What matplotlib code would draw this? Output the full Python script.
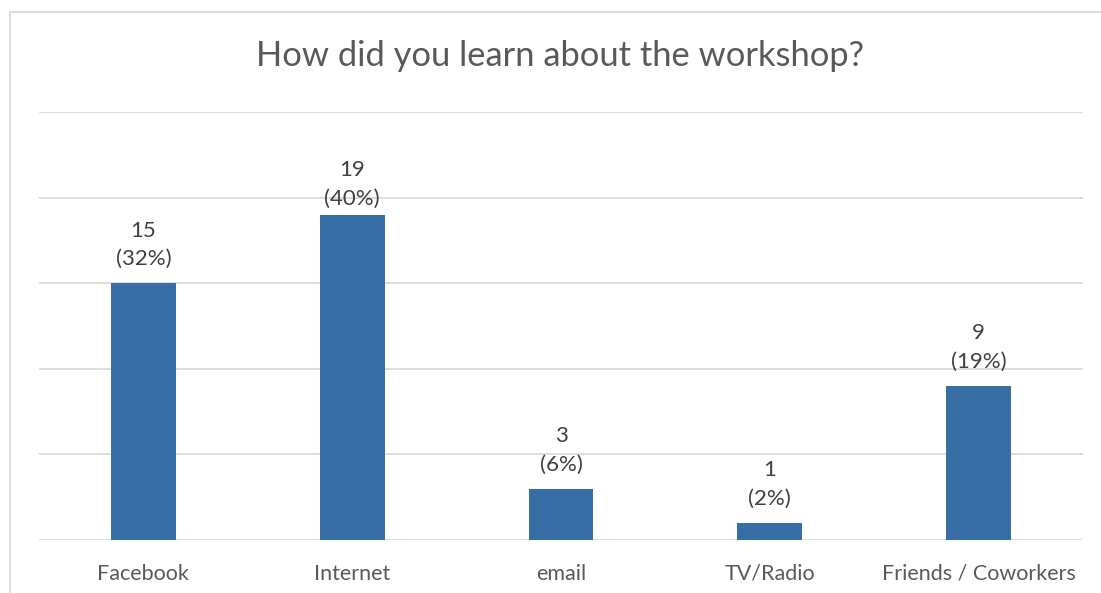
import matplotlib.pyplot as plt
from matplotlib.lines import Line2D

# survey answers
sources = ["Facebook", "Internet", "email", "TV/Radio", "Friends / Coworkers"]
counts = [15, 19, 3, 1, 9]
percents = [32, 40, 6, 2, 19]

plt.rcParams['font.family'] = ['Lato', 'DejaVu Sans']

fig = plt.figure(figsize=(11.01, 5.93), dpi=100)
W, H = 1101, 593
ax = fig.add_axes([39 / W, 1 - 540 / H, (1083 - 39) / W, (540 - 112) / H])

x = range(len(sources))
ax.bar(x, counts, width=0.31, color="#376ea5", zorder=3)
ax.set_xlim(-0.5, len(sources) - 0.5)
ax.set_ylim(0, 25)
ax.set_yticks([0, 5, 10, 15, 20, 25])
ax.yaxis.grid(True, color="#d9d9d9", linewidth=1.3, zorder=0)
ax.tick_params(axis="y", left=False, labelleft=False)
ax.tick_params(axis="x", length=0, pad=17, labelsize=15.5, labelcolor="#595959")
ax.set_xticks(list(x))
ax.set_xticklabels(sources)
for s in ax.spines.values():
    s.set_visible(False)

# the Internet label sits a bit lower in the original
label_pad = [10, 4, 10, 10, 10]
for i, (c, p) in enumerate(zip(counts, percents)):
    ax.annotate(f"{c}\n({p}%)", (i, c), xytext=(0, label_pad[i]), textcoords="offset points",
                ha="center", va="bottom", fontsize=16, color="#404040",
                linespacing=1.55, zorder=4)

fig.text(560 / W, 1 - 56 / H, "How did you learn about the workshop?",
         ha="center", va="center", fontsize=24.8, color="#595959")

# chart frame (cropped)
fig.add_artist(Line2D([10 / W, 10 / W, 1], [0, 1 - 12 / H, 1 - 12 / H],
                      transform=fig.transFigure, color="#d9d9d9", linewidth=1.3))

fig.savefig("out.png", dpi=100)
